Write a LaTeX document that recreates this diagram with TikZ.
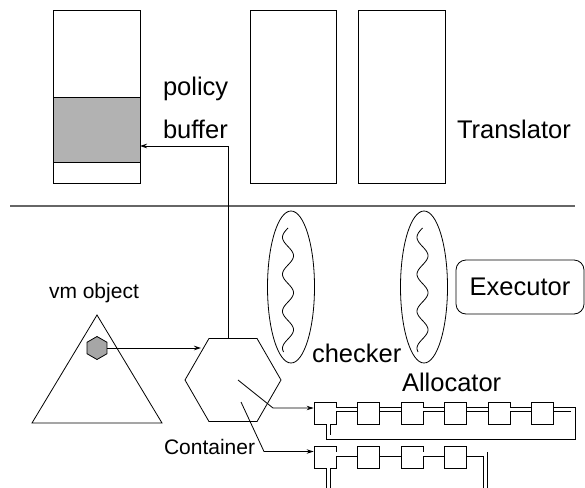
\documentclass[tikz,border=0pt]{standalone}
\usepackage{fontspec}
\setmainfont{Liberation Sans}
\usetikzlibrary{shapes.geometric,arrows.meta}
\begin{document}
\begin{tikzpicture}[x=1pt,y=-1pt,line width=0.8pt,
  every node/.style={inner sep=0pt,outer sep=0pt},
  big/.style={font=\fontsize{25.5}{28}\selectfont},
  small/.style={font=\fontsize{21}{24}\selectfont},
  arr/.style={-{Stealth[length=7pt,width=4.5pt]}},
  tall/.style={draw,minimum width=87pt,minimum height=173pt},
  sbox/.style={draw,fill=white,minimum width=22pt,minimum height=22pt,outer sep=0.4pt},
  dbl/.style={double,double distance=3.4pt,line width=0.8pt},
  oval/.style={draw,ellipse,minimum width=47pt,minimum height=152pt},
  sep/.style={draw=black!60,line width=1.5pt}]
\useasboundingbox (0,0) rectangle (585,487);
\clip (0,0) rectangle (585,487);

% top boxes
\node[tall] (pb) at (96.5,96.5) {};
\node[draw,fill=black!30,minimum width=87pt,minimum height=65pt] (gray) at (96.5,129.5) {};
\node[tall,minimum width=86pt] (t1) at (293,96.5) {};
\node[tall] (t2) at (401.5,96.5) {};
\node[big,anchor=base west] (policy) at (163,95) {policy};
\node[big,anchor=base west] (buffer) at (163,138) {buffer};
\node[big,anchor=base west] (transl) at (457,138) {Translator};

% separator
\draw[sep] (10,206) -- (575,206);

% checkers
\node[oval] (ck1) at (291,287) {};
\node[oval] (ck2) at (424,287) {};
\draw[domain=0:124,samples=120,smooth,variable=\t] plot ({288-5.5*sin(9.7297*\t)},{228+\t});
\draw[domain=0:124,samples=120,smooth,variable=\t] plot ({422.5-5.5*sin(9.7297*\t)},{228+\t});
\node[big,anchor=base west] (checker) at (312,362) {checker};
\node[big,anchor=base west] (alloc) at (402,391) {Allocator};

% executor
\node[draw,rounded corners=10pt,minimum width=128pt,minimum height=54pt,big] (exec) at (520,287) {Executor};

% vm object
\coordinate (tA) at (97,315);
\coordinate (tB) at (162,423);
\coordinate (tC) at (32,423);
\draw (tA) -- (tB) -- (tC) -- cycle;
\node[draw,fill=black!35,regular polygon,regular polygon sides=6,shape border rotate=30,minimum size=23pt] (vmh) at (97,348) {};
\node[small,anchor=base west] (vmlabel) at (49,298) {vm object};

% container
\node[draw,regular polygon,regular polygon sides=6,minimum size=96pt] (cont) at (233,380) {};
\node[small,anchor=base west] (contlabel) at (164,454) {Container};

\coordinate (cin) at (201,348);
\draw[arr] (vmh.east) -- (cin);
\coordinate (bend) at (228,146);
\draw[arr] ([xshift=-5pt]cont.north) -- (bend) -- (bend -| gray.east);

% chains
\foreach \i/\x in {1/325,2/368.5,3/412,4/455.5,5/499,6/542.5}
  \node[sbox] (a\i) at (\x,413) {};
\foreach \i/\x in {1/325,2/368.5,3/412,4/455.5}
  \node[sbox] (b\i) at (\x,457) {};

\foreach \i/\j in {1/2,2/3,3/4,4/5,5/6}
  \draw[dbl] ([yshift=3.5pt]a\i.east) -- ([yshift=3.5pt]a\j.west);
\foreach \i/\j in {1/2,2/3,3/4}
  \draw[dbl] ([yshift=3pt]b\i.east) -- ([yshift=3pt]b\j.west);

\coordinate (ar) at (573,437);
\draw[dbl] ([yshift=3.5pt]a6.east) -| (ar) -| ([xshift=3.5pt]a1.south);
\coordinate (br) at (485.5,497);
\draw[dbl] ([yshift=3pt]b4.east) -| (br) -| ([xshift=3.5pt]b1.south);

% container pointers
\coordinate (p1) at (238,380);
\coordinate (q1) at (273,408);
\draw[arr] (p1) -- (q1) -- (q1 -| a1.west);
\coordinate (p2) at (241,402);
\coordinate (q2) at (264,451.5);
\draw[arr] (p2) -- (q2) -- (q2 -| b1.west);
\end{tikzpicture}
\end{document}
